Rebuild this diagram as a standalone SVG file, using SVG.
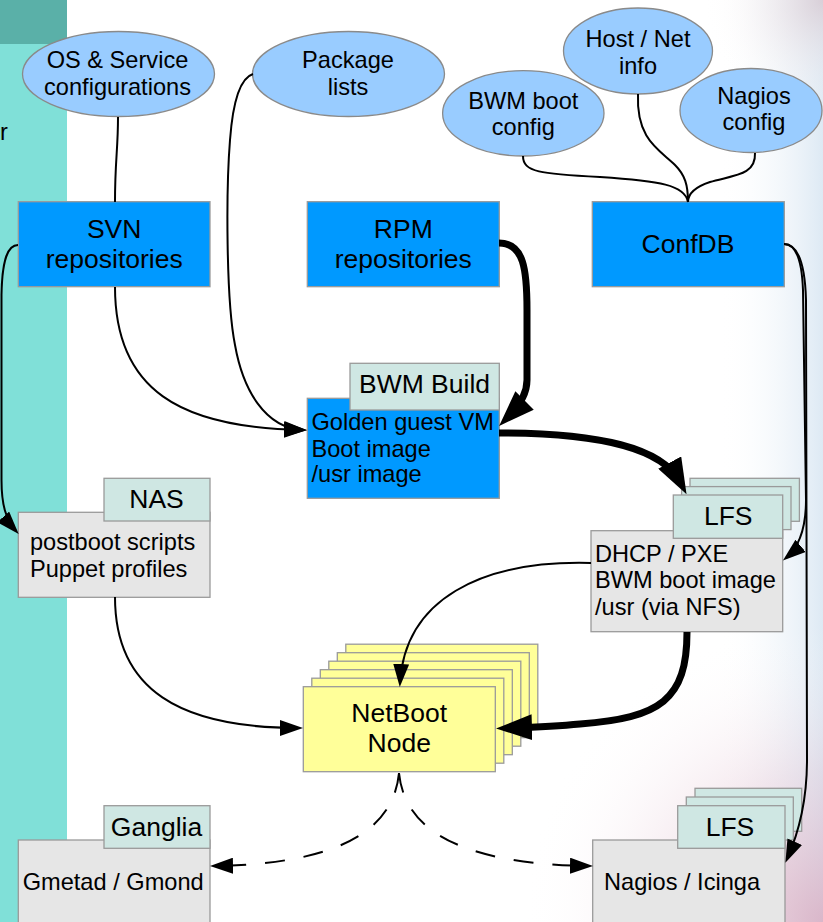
<svg xmlns="http://www.w3.org/2000/svg" width="823" height="922" viewBox="0 0 823 922">
<defs>
<style>
text{font-family:"Liberation Sans",Arial,sans-serif;fill:#000}
.e{fill:#99ccff;stroke:#8a8a8a;stroke-width:1.3}
.b{fill:#0099ff;stroke:#9a9a9a;stroke-width:1.3}
.tab{fill:#cfe7e3;stroke:#9a9a9a;stroke-width:1.3}
.g{fill:#e6e6e6;stroke:#9a9a9a;stroke-width:1.3}
.y{fill:#ffff99;stroke:#9a9a9a;stroke-width:1.3}
.big{font-size:26.5px;text-anchor:middle}
.sm{font-size:23.6px}
.mid{text-anchor:middle}
.c{fill:none;stroke:#000;stroke-width:2}
.k{fill:none;stroke:#000;stroke-width:7}
.d{fill:none;stroke:#000;stroke-width:2;stroke-dasharray:20 19}
</style>
<marker id="a" markerUnits="userSpaceOnUse" markerWidth="23" markerHeight="16" refX="19" refY="8" orient="auto"><path d="M0,0 L23,8 L0,16 z" fill="#000"/></marker>
<marker id="A" markerUnits="userSpaceOnUse" markerWidth="36" markerHeight="26" refX="22" refY="13" orient="auto"><path d="M0,0 L36,13 L0,26 z" fill="#000"/></marker>
<linearGradient id="rg" x1="0" y1="0" x2="1" y2="0"><stop offset="0" stop-color="#ffffff" stop-opacity="0"/><stop offset="1" stop-color="#d2e2f0" stop-opacity="0.75"/></linearGradient>
<radialGradient id="pb" gradientUnits="userSpaceOnUse" cx="823" cy="922" r="300"><stop offset="0" stop-color="#d8a6bc" stop-opacity="0.75"/><stop offset="0.5" stop-color="#e2c0d0" stop-opacity="0.35"/><stop offset="1" stop-color="#ffffff" stop-opacity="0"/></radialGradient>
<radialGradient id="pt" gradientUnits="userSpaceOnUse" cx="823" cy="0" r="120"><stop offset="0" stop-color="#d6c4cc" stop-opacity="0.7"/><stop offset="1" stop-color="#ffffff" stop-opacity="0"/></radialGradient>
</defs>
<rect x="0" y="0" width="823" height="922" fill="#ffffff"/>
<rect x="720" y="0" width="103" height="922" fill="url(#rg)"/>
<rect x="0" y="0" width="823" height="922" fill="url(#pb)"/>
<rect x="0" y="0" width="823" height="922" fill="url(#pt)"/>
<rect x="0" y="0" width="67" height="922" fill="#80e0d8"/>
<rect x="0" y="0" width="67" height="44" fill="#5ab0a8"/>
<text x="0" y="140" class="sm">r</text>

<g id="os-config"><ellipse class="e" cx="118.5" cy="74" rx="96" ry="42.5"/><text class="sm mid" x="117.5" y="68">OS &amp; Service</text><text class="sm mid" x="117.5" y="95">configurations</text></g>
<g id="package-lists"><ellipse class="e" cx="348.5" cy="74" rx="96" ry="42.5"/><text class="sm mid" x="348" y="68">Package</text><text class="sm mid" x="348" y="95">lists</text></g>
<g id="host-net"><ellipse class="e" cx="638" cy="51" rx="74.5" ry="43"/><text class="sm mid" x="638" y="47">Host / Net</text><text class="sm mid" x="638" y="73.5">info</text></g>
<g id="bwm-boot-config"><ellipse class="e" cx="523.3" cy="113.3" rx="80.7" ry="42.7"/><text class="sm mid" x="523.3" y="108.5">BWM boot</text><text class="sm mid" x="523.3" y="135">config</text></g>
<g id="nagios-config"><ellipse class="e" cx="751" cy="110.5" rx="71" ry="42"/><text class="sm mid" x="754" y="103.5">Nagios</text><text class="sm mid" x="754" y="130">config</text></g>

<g id="svn"><rect class="b" x="18.3" y="201.7" width="191.7" height="85"/><text class="big" x="114.2" y="238.3">SVN</text><text class="big" x="114.2" y="268.3">repositories</text></g>
<g id="rpm"><rect class="b" x="307.3" y="201.7" width="192" height="85"/><text class="big" x="403.3" y="238.3">RPM</text><text class="big" x="403.3" y="268.3">repositories</text></g>
<g id="confdb"><rect class="b" x="592.3" y="201.7" width="192" height="85"/><text class="big" x="688" y="253.3">ConfDB</text></g>

<g id="bwm-build"><rect class="b" x="307.3" y="398.3" width="192" height="100"/><rect class="tab" x="350" y="363.3" width="149.3" height="46.7"/><text class="big" x="424.5" y="393.3">BWM Build</text><text class="sm" x="311.5" y="430">Golden guest VM</text><text class="sm" x="311.5" y="456.5">Boot image</text><text class="sm" x="311.5" y="482">/usr image</text></g>

<g id="nas"><rect class="g" x="18.3" y="512.3" width="191.7" height="85"/><rect class="tab" x="104" y="478.3" width="106" height="42.7"/><text class="big" x="156.5" y="508.3">NAS</text><text class="sm" x="30" y="550">postboot scripts</text><text class="sm" x="30" y="576.7">Puppet profiles</text></g>

<g id="lfs-boot"><rect class="g" x="591" y="530.7" width="191.7" height="101"/><rect class="tab" x="690" y="478.3" width="109.4" height="43"/><rect class="tab" x="681.6" y="486.6" width="109.4" height="43"/><rect class="tab" x="673.3" y="495" width="109.4" height="43.3"/><text class="big" x="728.2" y="525">LFS</text><text class="sm" x="595" y="561.7">DHCP / PXE</text><text class="sm" x="595" y="588.3">BWM boot image</text><text class="sm" x="595" y="615">/usr (via NFS)</text></g>

<g id="netboot"><rect class="y" x="345.8" y="644.2" width="192" height="85"/><rect class="y" x="337.3" y="652.7" width="192" height="85"/><rect class="y" x="328.8" y="661.2" width="192" height="85"/><rect class="y" x="320.3" y="669.7" width="192" height="85"/><rect class="y" x="311.8" y="678.2" width="192" height="85"/><rect class="y" x="303.3" y="686.7" width="192" height="85"/><text class="big" x="399.2" y="721.5">NetBoot</text><text class="big" x="399.2" y="751.7">Node</text></g>

<g id="ganglia"><rect class="g" x="18.3" y="840" width="191.7" height="100"/><rect class="tab" x="104" y="805.7" width="106" height="42.6"/><text class="big" x="156.5" y="836">Ganglia</text><text class="sm" x="22.7" y="890">Gmetad / Gmond</text></g>

<g id="lfs-monitor"><rect class="g" x="592.7" y="840" width="192.3" height="100"/><rect class="tab" x="695" y="788.3" width="106.7" height="43"/><rect class="tab" x="686.3" y="797" width="107" height="43"/><rect class="tab" x="677.7" y="805.7" width="107.3" height="42.6"/><text class="big" x="730" y="836">LFS</text><text class="sm" x="604" y="890">Nagios / Icinga</text></g>

<g id="connectors">
<path class="c" d="M638,94 C636,140 660,150 675,165 C685,175 688,185 688,202"/>
<path class="c" d="M523,156 C523,172 540,174 600,177 C660,181 685,185 688,202"/>
<path class="c" d="M755,153 C756,175 735,175 710,182 C695,187 688,193 688,202"/>
<path class="c" d="M118,117 C118,150 115,160 115,202 M115,287 C115,390 180,428 303,430" marker-end="url(#a)"/>
<path class="c" d="M253,74 C240,78 233,100 230,140 C226,190 226,300 235,345 C243,390 265,428 303,430" marker-end="url(#a)"/>
<path class="c" d="M18,245 C6,245 2,265 1.5,295 L1.5,480 C1.5,505 6,520 16,531" marker-end="url(#a)"/>
<path class="k" d="M499,243 C524,243 527,270 527,310 L527,380 C527,395 518,407 509,416" marker-end="url(#A)"/>
<path class="k" d="M499,433 C600,433 662,448 680,482" marker-end="url(#A)"/>
<path class="c" d="M784,244 C797,244 802,262 803,290 L806,500 C806,530 798,548 786,558" marker-end="url(#a)"/>
<path class="c" d="M784,244 C799,244 805,265 806,300 L807,760 C807,800 800,830 787,859" marker-end="url(#a)"/>
<path class="c" d="M591,563 C480,560 405,600 400,683" marker-end="url(#a)"/>
<path class="k" d="M687,632 C687,700 660,718 580,724 C560,726 540,727 510,728" marker-end="url(#A)"/>
<path class="c" d="M115,597 C115,690 180,728 299,728" marker-end="url(#a)"/>
<path class="d" d="M399,773 C393,835 330,864 214,866" marker-end="url(#a)"/>
<path class="d" d="M399,773 C405,835 470,864 589,866" marker-end="url(#a)"/>
</g>
</svg>
